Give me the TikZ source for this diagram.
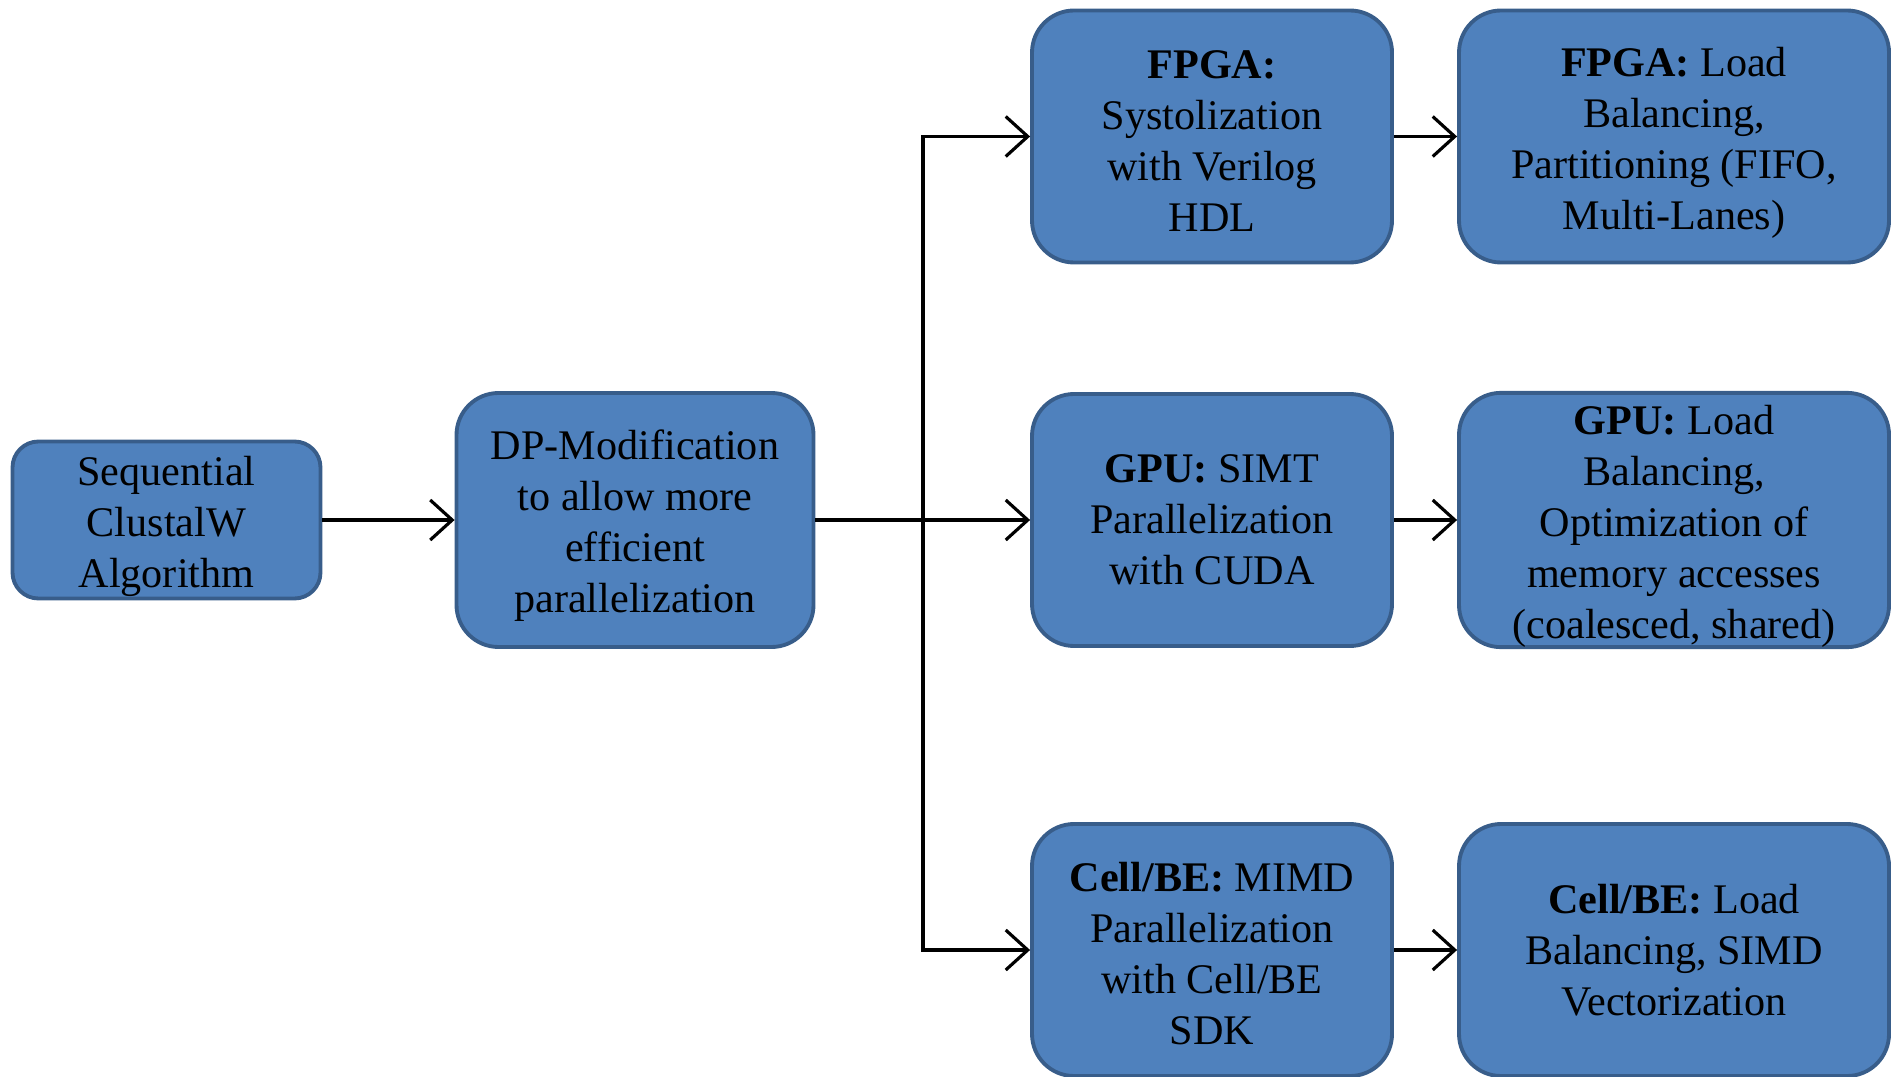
\documentclass[tikz,border=0pt]{standalone}
\usepackage{fontspec}
\setmainfont{Liberation Serif}
\usetikzlibrary{arrows.meta, positioning}
\definecolor{caixa}{HTML}{4F81BD}
\definecolor{borda}{HTML}{385D8A}
\newcommand{\topo}[1][11.8pt]{\rule{0pt}{#1}}

\begin{document}
\begin{tikzpicture}[
    etapa/.style={draw=borda, fill=caixa, line width=1.1pt, rounded corners=0.42cm,
      align=center, inner sep=0pt, minimum width=3.6cm, minimum height=2.52cm,
      font=\fontsize{12}{14.5}\selectfont},
    seta/.style={-{Straight Barb[length=2.2mm, width=4mm]}, line width=0.9pt}]
  \useasboundingbox (0,0) rectangle (18.91,10.76);
  % entrada
  \node[etapa, rounded corners=0.26cm, minimum width=3.08cm, minimum height=1.57cm]
    (seq) at (1.665,5.56) {\topo Sequential\\ClustalW\\Algorithm};
  \node[etapa, minimum width=3.57cm, minimum height=2.54cm] (dp) at (6.35,5.56)
    {\topo DP-Modification\\to allow more\\efficient\\parallelization};
  % paraleliza\c{c}\~ao
  \node[etapa] (fpga) at (12.12,9.395)
    {\topo[10.6pt]\textbf{FPGA:}\\Systolization\\with Verilog\\HDL};
  \node[etapa] (gpu) at (12.12,5.56)
    {\textbf{GPU:} SIMT\\Parallelization\\with CUDA};
  \node[etapa] (cell) at (12.12,1.26)
    {\topo[10.6pt]\textbf{Cell/BE:} MIMD\\Parallelization\\with Cell/BE\\SDK};
  % otimiza\c{c}\~ao
  \node[etapa, minimum width=4.3cm] (fpgalb) at (16.74,9.395)
    {\topo\textbf{FPGA:} Load\\Balancing,\\Partitioning (FIFO,\\Multi-Lanes)};
  \node[etapa, minimum width=4.3cm] (gpulb) at (16.74,5.56)
    {\topo\textbf{GPU:} Load\\Balancing,\\Optimization of\\memory accesses\\(coalesced, shared)};
  \node[etapa, minimum width=4.3cm] (celllb) at (16.74,1.26)
    {\textbf{Cell/BE:} Load\\Balancing, SIMD\\Vectorization};
  % conex\~oes
  \coordinate (ramo) at (9.23,5.56);
  \draw[seta] (seq) -- (dp);
  \draw[seta] (dp) -- (gpu);
  \draw[seta] (ramo) |- (fpga.west);
  \draw[seta] (ramo) |- (cell.west);
  \draw[seta] (fpga) -- (fpgalb);
  \draw[seta] (gpu) -- (gpulb);
  \draw[seta] (cell) -- (celllb);
\end{tikzpicture}
\end{document}
